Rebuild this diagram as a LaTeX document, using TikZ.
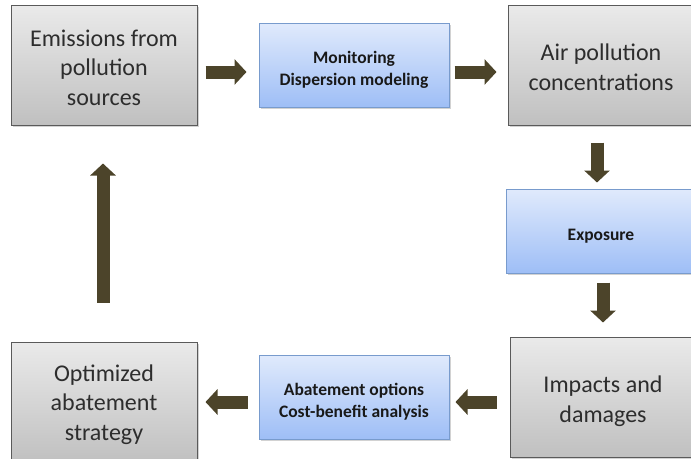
\documentclass[tikz,border=0pt]{standalone}
\usepackage{fontspec}
\setmainfont{Carlito}
\usetikzlibrary{shadows,arrows.meta}
\definecolor{arrowcol}{RGB}{76,68,42}
\definecolor{graytop}{RGB}{234,234,234}
\definecolor{graybot}{RGB}{192,192,192}
\definecolor{grayline}{RGB}{90,90,90}
\definecolor{graytext}{RGB}{45,45,45}
\definecolor{bluetop}{RGB}{224,234,252}
\definecolor{bluebot}{RGB}{158,190,246}
\definecolor{blueline}{RGB}{120,155,205}
\definecolor{bluetext}{RGB}{25,25,25}
\begin{document}
\begin{tikzpicture}[x=1pt,y=-1pt,
  graybox/.style={draw=grayline, line width=1pt, top color=graytop, bottom color=graybot,
    minimum width=186pt, minimum height=120pt, inner sep=0pt,
    drop shadow={shadow xshift=1.5pt, shadow yshift=-1.5pt, opacity=0.35}},
  graytxt/.style={align=center, inner sep=0pt, yshift=-2.5pt,
    font=\fontsize{24}{29.5}\selectfont, text=graytext},
  bluebox/.style={draw=blueline, line width=1pt, top color=bluetop, bottom color=bluebot,
    minimum width=190pt, minimum height=84pt, inner sep=0pt,
    drop shadow={shadow xshift=1.5pt, shadow yshift=-1.5pt, opacity=0.35}},
  bluetxt/.style={align=center, inner sep=0pt, yshift=-5pt,
    font=\bfseries\fontsize{17.5}{22}\selectfont, text=bluetext},
  flow/.style={line width=13pt, draw=arrowcol, -{Triangle[width=25pt,length=12pt]}}]
\useasboundingbox (0,0) rectangle (691,458);
\clip (0,0) rectangle (691,458);
\fill[white] (0,0) rectangle (691,458);

\node[graybox, label={[graytxt]center:Emissions from\\pollution\\sources}] (emis) at (104,65) {};
\node[bluebox, label={[bluetxt]center:Monitoring\\Dispersion modeling}] (monit) at (354,65) {};
\node[graybox, label={[graytxt]center:Air pollution\\concentrations}] (air) at (601,65) {};
\node[bluebox, label={[bluetxt]center:Exposure}] (expo) at (601,231) {};
\node[graybox, label={[graytxt, yshift=-1.5pt]center:Impacts and\\damages}] (imp) at (603,397) {};
\node[bluebox, label={[bluetxt]center:Abatement options\\Cost-benefit analysis}] (abat) at (354,397) {};
\node[graybox, label={[graytxt]center:Optimized\\abatement\\strategy}] (opt) at (104,402) {};

\draw[flow, shorten <=8pt, shorten >=12pt] ([yshift=-7pt]emis.east) -- ([yshift=-7pt]monit.west);
\draw[flow, shorten <=5pt, shorten >=11pt] ([yshift=-7pt]monit.east) -- ([yshift=-7pt]air.west);
\draw[flow, shorten <=17pt, shorten >=6pt] ([xshift=-4pt]air.south) -- ([xshift=-4pt]expo.north);
\draw[flow, shorten <=9pt, shorten >=14pt] ([xshift=2pt]expo.south) -- ([xshift=0pt]imp.north);
\draw[flow, shorten <=13pt, shorten >=6pt] ([yshift=-5pt]imp.west) -- ([yshift=-5pt]abat.east);
\draw[flow, shorten <=11pt, shorten >=8pt] ([yshift=-5pt]abat.west) -- (opt.east);
\draw[flow, shorten <=39pt, shorten >=38pt] ([xshift=-1pt]opt.north) -- ([xshift=-1pt]emis.south);
\end{tikzpicture}
\end{document}
